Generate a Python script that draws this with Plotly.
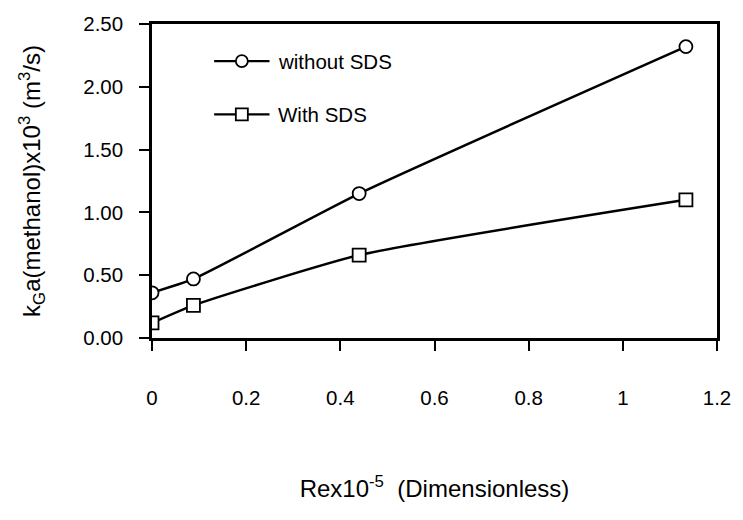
import plotly.graph_objects as go

# Reynolds number (x 10^-5) and mass-transfer coefficient kGa (x 10^3, m^3/s)
re_values = [0.0, 0.088, 0.44, 1.134]
kga_without_sds = [0.36, 0.47, 1.15, 2.32]
kga_with_sds = [0.12, 0.26, 0.66, 1.10]

series_names = ["without SDS", "With SDS"]
series_symbols = ["circle", "square"]
y_ticks = [0.0, 0.5, 1.0, 1.5, 2.0, 2.5]
x_ticks = [0, 0.2, 0.4, 0.6, 0.8, 1.0, 1.2]
x_tick_text = ["0", "0.2", "0.4", "0.6", "0.8", "1", "1.2"]

FONT = "Liberation Sans, Arial, sans-serif"

fig = go.Figure()
for name, ys, sym in zip(series_names, [kga_without_sds, kga_with_sds], series_symbols):
    fig.add_trace(go.Scatter(
        x=re_values, y=ys, name=name, mode="lines+markers",
        line=dict(color="black", width=2.5, shape="spline", smoothing=0.5),
        marker=dict(symbol=sym, size=13, color="white",
                    line=dict(color="black", width=1.8)),
        showlegend=False,
    ))

# Hand-built legend inside the plot area (paper coordinates)
legend_rows = [(0.882, "circle"), (0.712, "rect")]
for (yy, shp), name in zip(legend_rows, series_names):
    fig.add_shape(type="line", xref="paper", yref="paper",
                  x0=0.11, x1=0.208, y0=yy, y1=yy,
                  line=dict(color="black", width=2.2))
    fig.add_shape(type=shp, xref="paper", yref="paper",
                  xsizemode="pixel", ysizemode="pixel",
                  xanchor=0.159, yanchor=yy, x0=-6, x1=6, y0=-6, y1=6,
                  fillcolor="white", line=dict(color="black", width=1.8))
    fig.add_annotation(text=name, xref="paper", yref="paper",
                       x=0.219, y=yy, xanchor="left", yanchor="middle",
                       showarrow=False, font=dict(size=20.5, color="black", family=FONT))

fig.update_layout(
    width=743, height=520,
    margin=dict(l=152, r=20, t=15, b=182),
    paper_bgcolor="white", plot_bgcolor="white",
    font=dict(family=FONT, size=20.5, color="black"),
)
fig.update_xaxes(
    range=[0, 1.2], tickvals=x_ticks, ticktext=x_tick_text,
    showgrid=False, zeroline=False, showline=True, linecolor="black", linewidth=2.5,
    mirror=True, ticks="outside", ticklen=10, tickwidth=1.5, tickcolor="black",
    ticklabelstandoff=30,
    title=dict(text="Rex10<sup>-5</sup>  (Dimensionless)", standoff=72,
               font=dict(size=24)),
)
fig.update_yaxes(
    range=[0, 2.5], tickvals=y_ticks, tickformat=".2f",
    showgrid=False, zeroline=False, showline=True, linecolor="black", linewidth=2.5,
    mirror=True, ticks="outside", ticklen=10, tickwidth=1.5, tickcolor="black",
    ticklabelstandoff=12,
    title=dict(text="k<sub>G</sub>a(methanol)x10<sup>3</sup> (m<sup>3</sup>/s)",
               standoff=36, font=dict(size=24)),
)

fig.write_html("out.html")
